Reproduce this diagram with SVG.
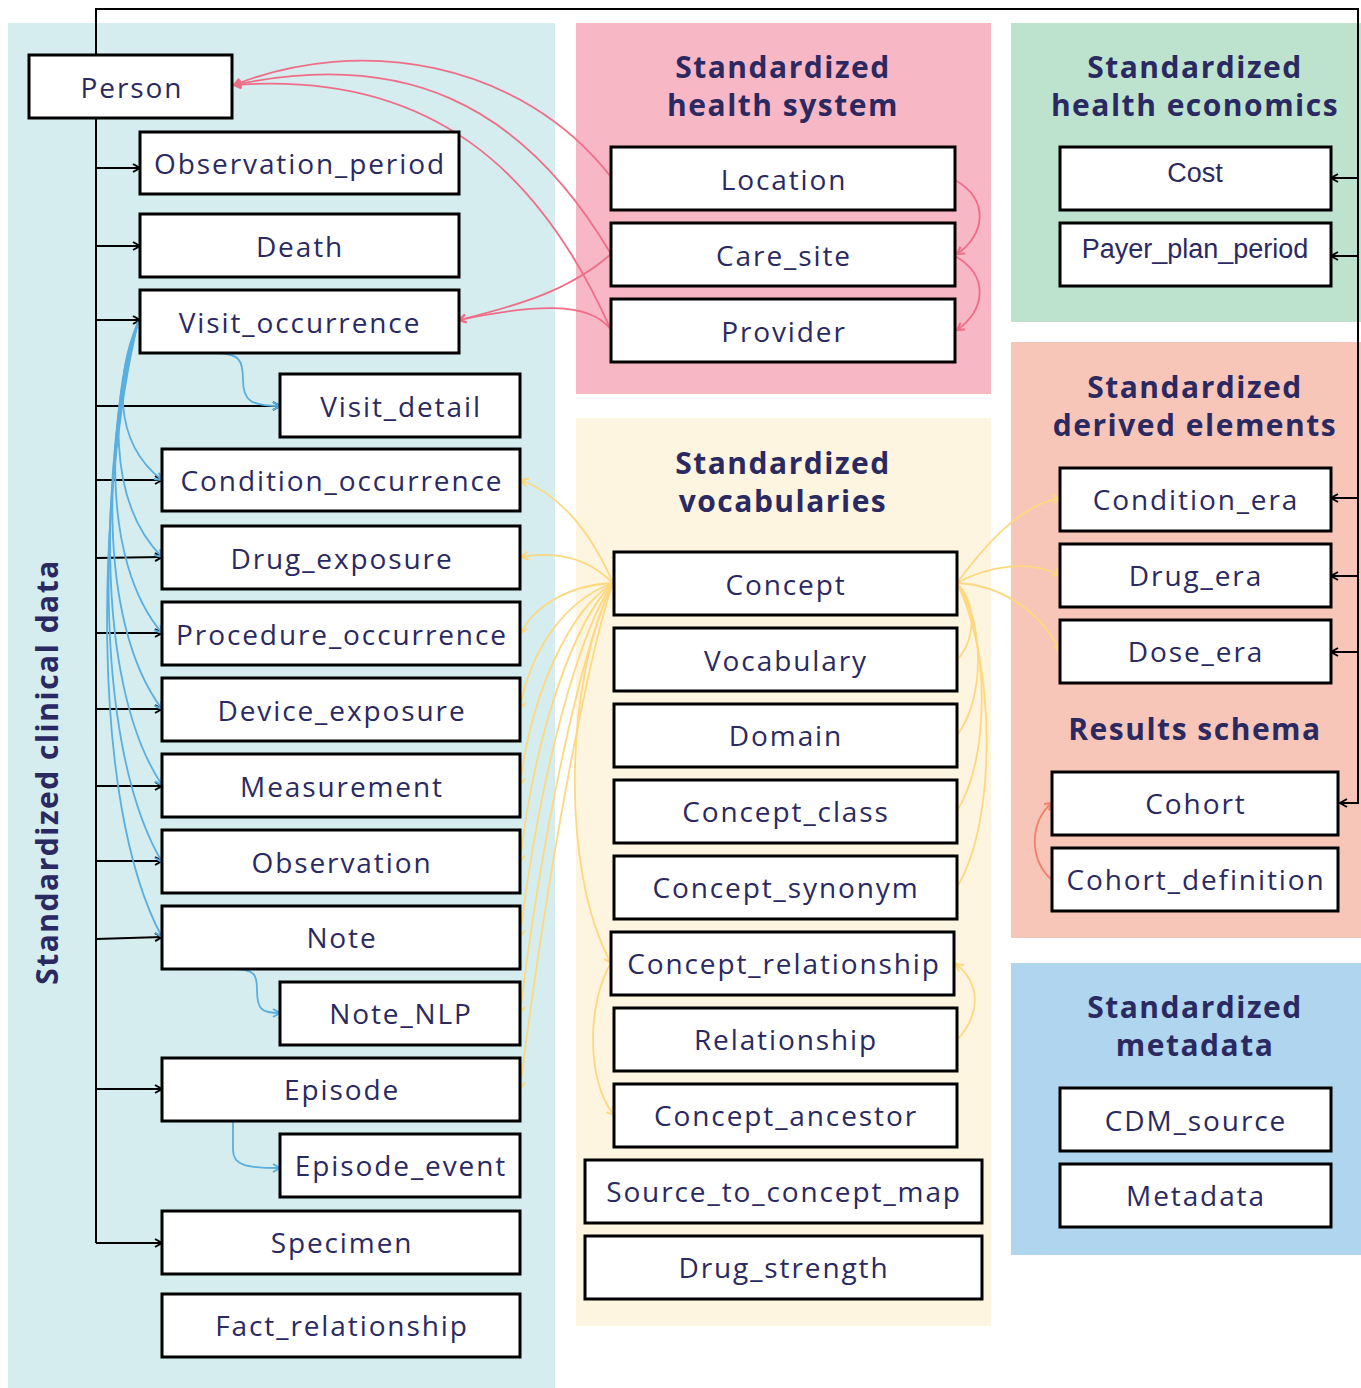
<svg xmlns="http://www.w3.org/2000/svg" width="1361" height="1388" viewBox="0 0 1361 1388">
<style>
.node rect{fill:#fff;stroke:#000;stroke-width:3}
.node text{font-family:"Open Sans","DejaVu Sans",sans-serif;font-size:28px;letter-spacing:1.9px;fill:#2b2961;text-anchor:middle;dominant-baseline:central}
.node text.arial{font-family:"Liberation Sans",Arial,sans-serif;font-size:27px;letter-spacing:0}
.title{font-family:"Open Sans","DejaVu Sans",sans-serif;font-size:30px;font-weight:bold;letter-spacing:1.5px;fill:#2b2961;text-anchor:middle}
.blk{fill:none;stroke:#000;stroke-width:2}
.pink{fill:none;stroke:#ee6e88;stroke-width:1.8}
.blue{fill:none;stroke:#5aaee0;stroke-width:1.8}
.yel{fill:none;stroke:#fdd880;stroke-width:1.8}
.sal{fill:none;stroke:#f0806a;stroke-width:1.8}
</style>
<defs>
<marker id="ab" markerUnits="userSpaceOnUse" markerWidth="12" markerHeight="12" refX="9" refY="5" orient="auto"><path d="M2,1 L9,5 L2,9" fill="none" stroke="#000" stroke-width="2"/></marker>
<marker id="ap" markerUnits="userSpaceOnUse" markerWidth="12" markerHeight="12" refX="9" refY="5" orient="auto"><path d="M2,1 L9,5 L2,9" fill="none" stroke="#ee6e88" stroke-width="2"/></marker>
<marker id="abl" markerUnits="userSpaceOnUse" markerWidth="12" markerHeight="12" refX="9" refY="5" orient="auto"><path d="M2,1 L9,5 L2,9" fill="none" stroke="#5aaee0" stroke-width="2"/></marker>
<marker id="ay" markerUnits="userSpaceOnUse" markerWidth="12" markerHeight="12" refX="9" refY="5" orient="auto"><path d="M2,1 L9,5 L2,9" fill="none" stroke="#fdd880" stroke-width="2"/></marker>
<marker id="as" markerUnits="userSpaceOnUse" markerWidth="12" markerHeight="12" refX="9" refY="5" orient="auto"><path d="M2,1 L9,5 L2,9" fill="none" stroke="#f0806a" stroke-width="2"/></marker>
</defs>
<rect width="1361" height="1388" fill="#fff"/>
<g id="sections">
<rect x="8" y="23" width="547" height="1365" fill="#d5edee"/>
<rect x="576" y="23" width="415" height="371" fill="#f8b7c5"/>
<rect x="576" y="418" width="415" height="908" fill="#fef5e0"/>
<rect x="1011" y="23" width="350" height="299" fill="#bde3cf"/>
<rect x="1011" y="342" width="350" height="596" fill="#f8c6b9"/>
<rect x="1011" y="963" width="350" height="292" fill="#afd6ee"/>
<text class="title" transform="translate(58,772) rotate(-90)">Standardized clinical data</text>
<text class="title" x="783" y="78">Standardized</text>
<text class="title" x="783" y="116">health system</text>
<text class="title" x="1195" y="78">Standardized</text>
<text class="title" x="1195" y="116">health economics</text>
<text class="title" x="1195" y="398">Standardized</text>
<text class="title" x="1195" y="436">derived elements</text>
<text class="title" x="1195" y="740">Results schema</text>
<text class="title" x="783" y="474">Standardized</text>
<text class="title" x="783" y="512">vocabularies</text>
<text class="title" x="1195" y="1018">Standardized</text>
<text class="title" x="1195" y="1056">metadata</text>
</g>
<g id="connectors">
<path class="blk" d="M96,1243 L96,9 L1358,9 L1358,803 L1340,803" marker-end="url(#ab)"/>
<path class="blk" d="M96,168 H140" marker-end="url(#ab)"/>
<path class="blk" d="M96,246 H140" marker-end="url(#ab)"/>
<path class="blk" d="M96,320 H140" marker-end="url(#ab)"/>
<path class="blk" d="M96,406 H280" marker-end="url(#ab)"/>
<path class="blk" d="M96,480 H162" marker-end="url(#ab)"/>
<path class="blk" d="M96,558 L162,557" marker-end="url(#ab)"/>
<path class="blk" d="M96,633 H162" marker-end="url(#ab)"/>
<path class="blk" d="M96,709 H162" marker-end="url(#ab)"/>
<path class="blk" d="M96,786 H162" marker-end="url(#ab)"/>
<path class="blk" d="M96,861 H162" marker-end="url(#ab)"/>
<path class="blk" d="M96,939 L162,937" marker-end="url(#ab)"/>
<path class="blk" d="M96,1089 H162" marker-end="url(#ab)"/>
<path class="blk" d="M96,1243 H162" marker-end="url(#ab)"/>
<path class="blk" d="M1358,178 H1331" marker-end="url(#ab)"/>
<path class="blk" d="M1358,256 H1331" marker-end="url(#ab)"/>
<path class="blk" d="M1358,498 H1331" marker-end="url(#ab)"/>
<path class="blk" d="M1358,576 H1331" marker-end="url(#ab)"/>
<path class="blk" d="M1358,652 H1331" marker-end="url(#ab)"/>
<path class="pink" d="M611,177 C 520,60 360,35 234,85" marker-end="url(#ap)"/>
<path class="pink" d="M611,254 C 520,100 400,50 234,85" marker-end="url(#ap)"/>
<path class="pink" d="M611,330 C 540,170 430,70 234,85" marker-end="url(#ap)"/>
<path class="pink" d="M611,254 C 570,290 520,305 459,320" marker-end="url(#ap)"/>
<path class="pink" d="M611,330 C 590,300 530,305 459,320" marker-end="url(#ap)"/>
<path class="pink" d="M955,180 C 990,200 985,235 957,254" marker-end="url(#ap)"/>
<path class="pink" d="M955,256 C 990,276 985,311 957,330" marker-end="url(#ap)"/>
<path class="blue" d="M213,353 C 240,353 243,360 243,380 C 243,400 250,406 280,406" marker-end="url(#abl)"/>
<path class="blue" d="M233,969 C 255,969 257,975 257,990 C 257,1010 262,1013 280,1013" marker-end="url(#abl)"/>
<path class="blue" d="M233,1121 L233,1150 C 233,1165 245,1168 280,1168" marker-end="url(#abl)"/>
<path class="blue" d="M138,322 C 118,370 110,440 162,480" marker-end="url(#abl)"/>
<path class="blue" d="M138,322 C 112,390 105,500 162,557" marker-end="url(#abl)"/>
<path class="blue" d="M138,322 C 108,410 100,560 162,633" marker-end="url(#abl)"/>
<path class="blue" d="M138,322 C 105,430 95,620 162,709" marker-end="url(#abl)"/>
<path class="blue" d="M138,322 C 102,450 92,680 162,785" marker-end="url(#abl)"/>
<path class="blue" d="M138,322 C 100,470 90,740 162,862" marker-end="url(#abl)"/>
<path class="blue" d="M138,322 C 98,490 88,800 162,937" marker-end="url(#abl)"/>
<path class="yel" d="M613,583 C 590,530 560,495 521,480" marker-end="url(#ay)"/>
<path class="yel" d="M613,583 C 590,560 560,550 521,557" marker-end="url(#ay)"/>
<path class="yel" d="M613,583 C 570,585 535,605 521,633" marker-end="url(#ay)"/>
<path class="yel" d="M613,583 C 565,600 530,650 520,709" marker-end="url(#ay)"/>
<path class="yel" d="M613,583 C 570,610 532,690 520,785" marker-end="url(#ay)"/>
<path class="yel" d="M613,583 C 575,620 535,730 520,862" marker-end="url(#ay)"/>
<path class="yel" d="M613,583 C 580,630 540,770 520,937" marker-end="url(#ay)"/>
<path class="yel" d="M613,583 C 585,640 545,810 520,1013" marker-end="url(#ay)"/>
<path class="yel" d="M613,583 C 590,650 550,850 520,1089" marker-end="url(#ay)"/>
<path class="yel" d="M613,583 C 565,680 560,870 611,963" marker-end="url(#ay)"/>
<path class="yel" d="M611,963 C 588,1000 585,1080 614,1115" marker-end="url(#ay)"/>
<path class="yel" d="M957,583 C 985,545 1020,505 1060,498" marker-end="url(#ay)"/>
<path class="yel" d="M957,583 C 990,565 1030,560 1060,575" marker-end="url(#ay)"/>
<path class="yel" d="M957,583 C 1000,585 1040,610 1060,651" marker-end="url(#ay)"/>
<path class="yel" d="M957,660 C 975,640 978,605 957,583"/>
<path class="yel" d="M957,735 C 985,700 985,620 957,583"/>
<path class="yel" d="M957,811 C 990,760 990,640 957,583"/>
<path class="yel" d="M957,887 C 998,820 995,660 957,583"/>
<path class="yel" d="M957,1040 C 980,1015 982,985 956,964" marker-end="url(#ay)"/>
<path class="sal" d="M1052,880 C 1028,860 1030,820 1052,803" marker-end="url(#as)"/>
</g>
<g id="person" class="node"><rect x="29" y="55" width="203" height="63"/><text x="132" y="87">Person</text></g>
<g id="observation_period" class="node"><rect x="140" y="132" width="319" height="62"/><text x="300" y="163">Observation_period</text></g>
<g id="death" class="node"><rect x="140" y="214" width="319" height="63"/><text x="300" y="246">Death</text></g>
<g id="visit_occurrence" class="node"><rect x="140" y="290" width="319" height="63"/><text x="300" y="322">Visit_occurrence</text></g>
<g id="visit_detail" class="node"><rect x="280" y="374" width="240" height="63"/><text x="401" y="406">Visit_detail</text></g>
<g id="condition_occurrence" class="node"><rect x="162" y="449" width="358" height="62"/><text x="342" y="480">Condition_occurrence</text></g>
<g id="drug_exposure" class="node"><rect x="162" y="526" width="358" height="63"/><text x="342" y="558">Drug_exposure</text></g>
<g id="procedure_occurrence" class="node"><rect x="162" y="602" width="358" height="63"/><text x="342" y="634">Procedure_occurrence</text></g>
<g id="device_exposure" class="node"><rect x="162" y="678" width="358" height="63"/><text x="342" y="710">Device_exposure</text></g>
<g id="measurement" class="node"><rect x="162" y="754" width="358" height="63"/><text x="342" y="786">Measurement</text></g>
<g id="observation" class="node"><rect x="162" y="830" width="358" height="63"/><text x="342" y="862">Observation</text></g>
<g id="note" class="node"><rect x="162" y="906" width="358" height="63"/><text x="342" y="937">Note</text></g>
<g id="note_nlp" class="node"><rect x="280" y="982" width="240" height="63"/><text x="401" y="1013">Note_NLP</text></g>
<g id="episode" class="node"><rect x="162" y="1058" width="358" height="63"/><text x="342" y="1089">Episode</text></g>
<g id="episode_event" class="node"><rect x="280" y="1134" width="240" height="63"/><text x="401" y="1165">Episode_event</text></g>
<g id="specimen" class="node"><rect x="162" y="1211" width="358" height="63"/><text x="342" y="1242">Specimen</text></g>
<g id="fact_relationship" class="node"><rect x="162" y="1294" width="358" height="63"/><text x="342" y="1325">Fact_relationship</text></g>
<g id="location" class="node"><rect x="611" y="147" width="344" height="63"/><text x="784" y="179">Location</text></g>
<g id="care_site" class="node"><rect x="611" y="223" width="344" height="63"/><text x="784" y="255">Care_site</text></g>
<g id="provider" class="node"><rect x="611" y="299" width="344" height="63"/><text x="784" y="331">Provider</text></g>
<g id="cost" class="node"><rect x="1060" y="147" width="271" height="63"/><text class="arial" x="1195" y="173">Cost</text></g>
<g id="payer_plan_period" class="node"><rect x="1060" y="223" width="271" height="63"/><text class="arial" x="1195" y="249">Payer_plan_period</text></g>
<g id="condition_era" class="node"><rect x="1060" y="468" width="271" height="63"/><text x="1196" y="499">Condition_era</text></g>
<g id="drug_era" class="node"><rect x="1060" y="544" width="271" height="63"/><text x="1196" y="575">Drug_era</text></g>
<g id="dose_era" class="node"><rect x="1060" y="620" width="271" height="63"/><text x="1196" y="651">Dose_era</text></g>
<g id="cohort" class="node"><rect x="1052" y="772" width="286" height="63"/><text x="1196" y="803">Cohort</text></g>
<g id="cohort_definition" class="node"><rect x="1052" y="848" width="286" height="63"/><text x="1196" y="879">Cohort_definition</text></g>
<g id="cdm_source" class="node"><rect x="1060" y="1088" width="271" height="63"/><text x="1196" y="1120">CDM_source</text></g>
<g id="metadata" class="node"><rect x="1060" y="1164" width="271" height="63"/><text x="1196" y="1195">Metadata</text></g>
<g id="concept" class="node"><rect x="614" y="552" width="343" height="63"/><text x="786" y="584">Concept</text></g>
<g id="vocabulary" class="node"><rect x="614" y="628" width="343" height="63"/><text x="786" y="660">Vocabulary</text></g>
<g id="domain" class="node"><rect x="614" y="704" width="343" height="63"/><text x="786" y="735">Domain</text></g>
<g id="concept_class" class="node"><rect x="614" y="780" width="343" height="63"/><text x="786" y="811">Concept_class</text></g>
<g id="concept_synonym" class="node"><rect x="614" y="856" width="343" height="63"/><text x="786" y="887">Concept_synonym</text></g>
<g id="concept_relationship" class="node"><rect x="611" y="932" width="343" height="63"/><text x="784" y="963">Concept_relationship</text></g>
<g id="relationship" class="node"><rect x="614" y="1008" width="343" height="63"/><text x="786" y="1039">Relationship</text></g>
<g id="concept_ancestor" class="node"><rect x="614" y="1084" width="343" height="63"/><text x="786" y="1115">Concept_ancestor</text></g>
<g id="source_to_concept_map" class="node"><rect x="585" y="1160" width="397" height="63"/><text x="784" y="1191">Source_to_concept_map</text></g>
<g id="drug_strength" class="node"><rect x="585" y="1236" width="397" height="63"/><text x="784" y="1267">Drug_strength</text></g>
</svg>
